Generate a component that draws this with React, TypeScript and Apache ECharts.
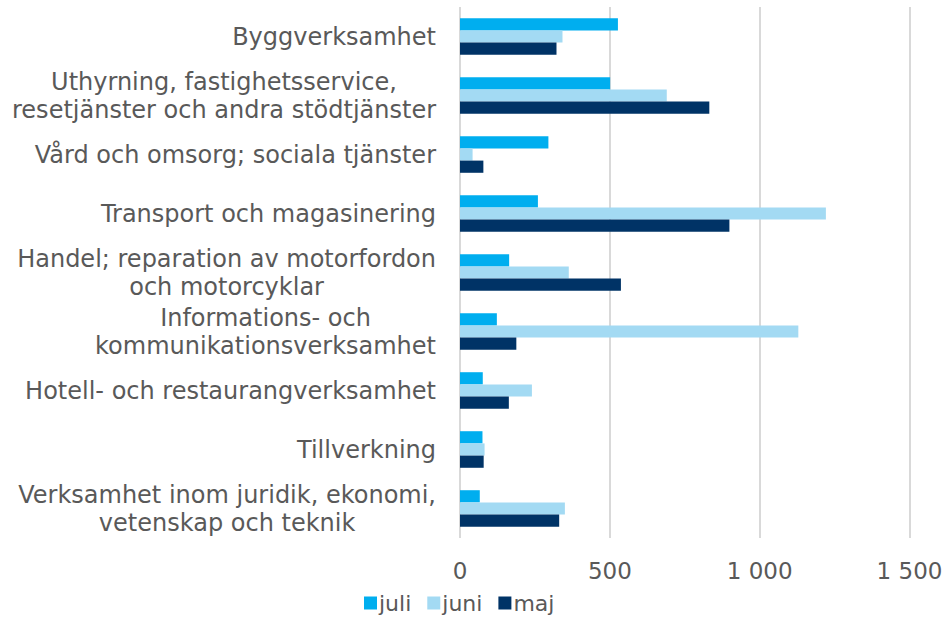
import React, { useEffect, useRef } from "react";
import * as echarts from "echarts";

const categories: string[] = [
  "Byggverksamhet",
  "Uthyrning, fastighetsservice,\nresetjänster och andra stödtjänster",
  "Vård och omsorg; sociala tjänster",
  "Transport och magasinering",
  "Handel; reparation av motorfordon\noch motorcyklar",
  "Informations- och\nkommunikationsverksamhet",
  "Hotell- och restaurangverksamhet",
  "Tillverkning",
  "Verksamhet inom juridik, ekonomi,\nvetenskap och teknik",
];

const juli: number[] = [527, 501, 295, 260, 164, 123, 76, 75, 66];
const juni: number[] = [342, 690, 42, 1221, 363, 1129, 240, 82, 350];
const maj: number[] = [322, 832, 78, 899, 537, 188, 163, 79, 331];

const seriesNames: string[] = ["juli", "juni", "maj"];
const colors: string[] = ["#00AEEF", "#A3DAF3", "#003366"];

const FONT = 'Verdana, "DejaVu Sans", sans-serif';
const TEXT = "#595959";

export default function App() {
  const ref = useRef<HTMLDivElement>(null);
  useEffect(() => {
    document.body.style.margin = "0";
    if (!ref.current) return;
    const chart = echarts.init(ref.current, null, { renderer: "svg" });
    const data = [juli, juni, maj];
    chart.setOption({
      animation: false,
      backgroundColor: "#ffffff",
      grid: { left: 460, right: 37.5, top: 7, bottom: 80, containLabel: false },
      legend: {
        data: seriesNames,
        left: 364,
        top: 592,
        padding: 0,
        itemWidth: 13,
        itemHeight: 13,
        itemGap: 16,
        icon: "rect",
        textStyle: { fontFamily: FONT, fontSize: 22, lineHeight: 22, color: TEXT, padding: [0, 0, 0, -3] },
      },
      xAxis: {
        type: "value",
        min: 0,
        max: 1500,
        interval: 500,
        axisLine: { show: false },
        axisTick: { show: false },
        splitLine: { show: true, lineStyle: { color: "#d9d9d9", width: 2 } },
        axisLabel: {
          fontFamily: FONT,
          fontSize: 23,
          color: TEXT,
          margin: 21,
          formatter: (v: number) => String(v).replace(/\B(?=(\d{3})+(?!\d))/g, " "),
        },
      },
      yAxis: {
        type: "category",
        data: categories,
        inverse: true,
        axisLine: { show: false },
        axisTick: { show: false },
        axisLabel: {
          margin: 24,
          align: "right",
          formatter: (v: string) => v.split("\n").map((l) => `{c|${l}}`).join("\n"),
          rich: {
            c: { align: "center", fontFamily: FONT, fontSize: 24, lineHeight: 28, color: TEXT },
          },
        },
      },
      series: seriesNames.map((name, i) => ({
        name,
        type: "bar",
        data: data[i],
        barGap: "0%",
        barCategoryGap: "38%",
        itemStyle: { color: colors[i] },
      })),
    });
    return () => chart.dispose();
  }, []);
  return <div ref={ref} style={{ width: 947, height: 618 }} />;
}
